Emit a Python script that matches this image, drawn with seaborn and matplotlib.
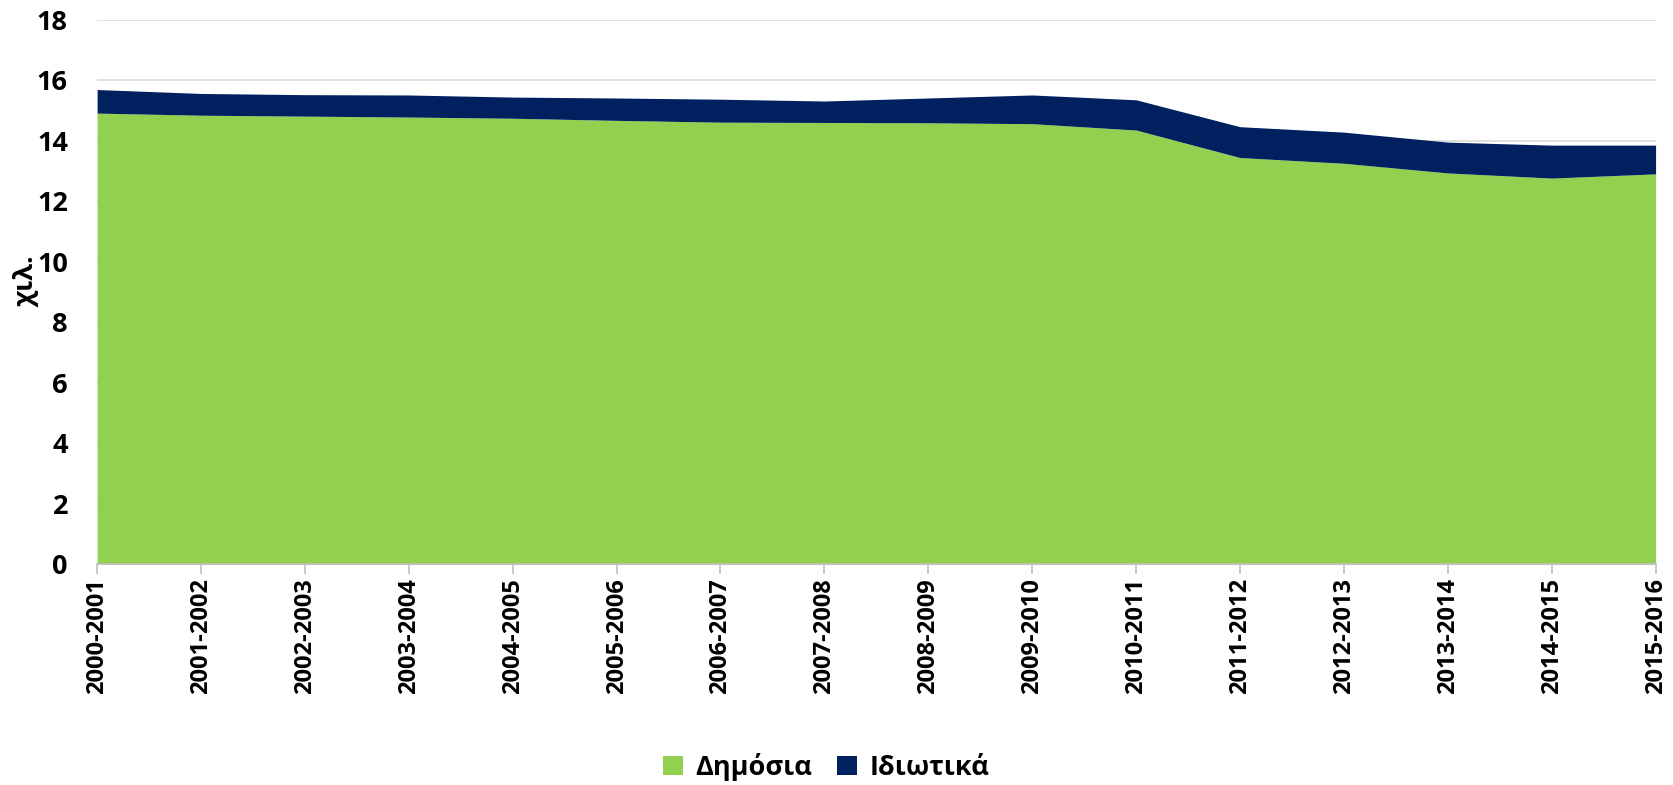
import matplotlib
matplotlib.use("Agg")
import matplotlib.pyplot as plt
import seaborn as sns
import numpy as np
import pandas as pd
from matplotlib.patches import Patch

years = ["2000-2001", "2001-2002", "2002-2003", "2003-2004", "2004-2005", "2005-2006",
         "2006-2007", "2007-2008", "2008-2009", "2009-2010", "2010-2011", "2011-2012",
         "2012-2013", "2013-2014", "2014-2015", "2015-2016"]
public = [14.92, 14.85, 14.82, 14.79, 14.75, 14.68, 14.62, 14.61, 14.60, 14.57, 14.36,
          13.45, 13.26, 12.94, 12.77, 12.91]
private_total = [15.70, 15.57, 15.53, 15.52, 15.45, 15.42, 15.38, 15.32, 15.42, 15.52, 15.36,
                 14.47, 14.29, 13.96, 13.86, 13.86]
private = [t - p for t, p in zip(private_total, public)]

series_names = ["Δημόσια", "Ιδιωτικά"]
colors = ["#92D050", "#002060"]

sns.set_theme(style="white")
plt.rcParams['font.family'] = ['Open Sans', 'DejaVu Sans']
plt.rcParams['text.color'] = 'black'
plt.rcParams['axes.labelcolor'] = 'black'

df = pd.DataFrame({"year": years, series_names[0]: public, series_names[1]: private})

fig = plt.figure(figsize=(16.74, 7.85), dpi=100)
ax = fig.add_axes([0.058, 0.2815, 0.931, 0.693])

x = np.arange(len(years))
ax.stackplot(x, df[series_names[0]], df[series_names[1]], colors=colors, linewidth=0)

ax.set_xlim(0, len(years) - 1)
ax.set_ylim(0, 18)
ax.set_yticks(np.arange(0, 19, 2))
ax.yaxis.grid(True, color="#D9D9D9", linewidth=1.2)
ax.set_axisbelow(True)
ax.set_xticks(x)
ax.set_xticklabels(years, rotation=90, fontsize=17, fontweight="bold")
for lbl in ax.get_yticklabels():
    lbl.set_fontsize(19.5)
    lbl.set_fontweight("bold")
ax.tick_params(axis="x", direction="out", length=7, color="#BFBFBF", width=1.2, pad=3,
               bottom=True, labelcolor="black")
ax.tick_params(axis="y", length=0, pad=21, labelcolor="black")

for s in ["top", "right", "left"]:
    ax.spines[s].set_visible(False)
ax.spines["bottom"].set_color("#BFBFBF")
ax.spines["bottom"].set_linewidth(1.2)

ax.set_ylabel("χιλ.", fontsize=19.5, fontweight="bold")
ax.yaxis.set_label_coords(-0.037, 0.52)

handles = [Patch(facecolor=c, edgecolor="none") for c in colors]
fig.legend(handles, series_names, loc="center", bbox_to_anchor=(0.4935, 0.023), ncol=2,
           frameon=False, prop={"size": 19.5, "weight": "bold"}, handlelength=0.75,
           handleheight=0.75, handletextpad=0.45, columnspacing=0.9, labelcolor="black")

fig.savefig("out.png", dpi=100)
